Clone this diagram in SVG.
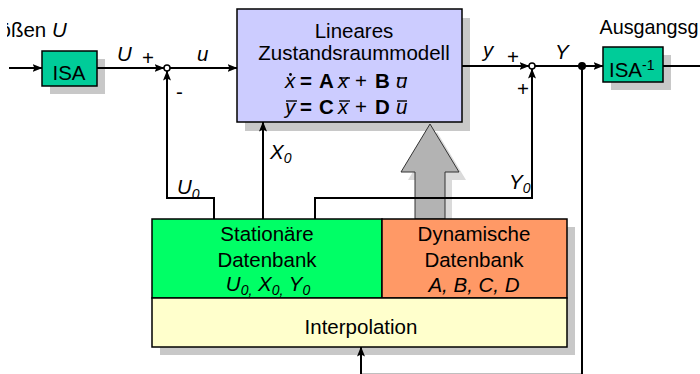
<svg xmlns="http://www.w3.org/2000/svg" width="700" height="374" viewBox="0 0 700 374">
<defs>
<style>
text{font-family:"Liberation Sans",Arial,sans-serif;font-size:20.5px;fill:#000}
.i{font-style:italic}
.b{font-weight:bold}
.s{font-size:14px}
.m{text-anchor:middle}
.box{stroke:#000;stroke-width:1.5}
.sh{fill:#c8c8c8}
.ln{fill:none;stroke:#000;stroke-width:2}
.a{marker-end:url(#ah)}
.bar{stroke:#000;stroke-width:1.4}
</style>
<marker id="ah" markerWidth="10" markerHeight="8" refX="9.5" refY="4" orient="auto" markerUnits="userSpaceOnUse">
<path d="M0,0 L10,4 L0,8 L2,4 Z" fill="#000"/>
</marker>
<clipPath id="clipL"><rect x="7" y="0" width="120" height="50"/></clipPath>
</defs>
<rect width="700" height="374" fill="#fff"/>

<g id="label-in"><text x="-0.5" y="37" clip-path="url(#clipL)">ößen <tspan class="i">U</tspan></text></g>
<g id="label-out"><text x="599.5" y="34" style="font-size:19.8px">Ausgangsg</text></g>

<g id="isa">
<rect class="sh" x="50" y="59" width="55" height="35"/>
<rect class="box" x="42" y="51" width="55" height="35" fill="#00cc99"/>
<text class="m" x="69" y="79.5">ISA</text>
</g>

<g id="isa-inv">
<rect class="sh" x="611" y="55" width="60" height="35"/>
<rect class="box" x="603" y="47" width="60" height="35" fill="#00cc99"/>
<text x="609" y="76.5">ISA<tspan class="s" dy="-7">-1</tspan></text>
</g>

<g id="model">
<rect class="sh" x="245" y="18" width="225" height="113"/>
<rect class="box" x="237" y="9" width="225" height="113" fill="#ccccff"/>
<text class="m" x="354" y="38">Lineares</text>
<text class="m" x="354" y="60">Zustandsraummodell</text>
<text y="88"><tspan x="285" class="i">x</tspan><tspan x="300" class="b">=</tspan><tspan x="319" class="b">A</tspan><tspan x="338" class="i">x</tspan><tspan x="355">+</tspan><tspan x="375" class="b">B</tspan><tspan x="396" class="i">u</tspan></text>
<circle cx="290.5" cy="74.5" r="1.4"/>
<line class="bar" x1="339" y1="78" x2="350" y2="78"/>
<line class="bar" x1="397" y1="78" x2="407" y2="78"/>
<text y="114"><tspan x="285" class="i">y</tspan><tspan x="300" class="b">=</tspan><tspan x="319" class="b">C</tspan><tspan x="338" class="i">x</tspan><tspan x="355">+</tspan><tspan x="375" class="b">D</tspan><tspan x="396" class="i">u</tspan></text>
<line class="bar" x1="286" y1="101" x2="297" y2="101"/>
<line class="bar" x1="339" y1="101" x2="350" y2="101"/>
<line class="bar" x1="397" y1="101" x2="407" y2="101"/>
</g>

<g id="transfer-arrow">
<path d="M422,227 L422,180 L408,180 L437,132 L466,180 L452,180 L452,227 Z" fill="#dadada"/>
<path d="M415,219 L415,172 L401,172 L430,124 L459,172 L445,172 L445,219 Z" fill="#b3b3b3" stroke="#333" stroke-width="1"/>
</g>

<g id="database-shadow"><rect class="sh" x="160" y="227" width="415" height="128"/></g>

<g id="stationaer">
<rect class="box" x="152" y="219" width="230" height="79" fill="#00ff66"/>
<text class="m" x="267" y="241">Stationäre</text>
<text class="m" x="267" y="266.5">Datenbank</text>
<text class="m i" x="268" y="291">U<tspan class="s" dy="4">0,</tspan><tspan dy="-4"> X</tspan><tspan class="s" dy="4">0,</tspan><tspan dy="-4"> Y</tspan><tspan class="s" dy="4">0</tspan></text>
</g>

<g id="dynamisch">
<rect class="box" x="382" y="219" width="185" height="79" fill="#ff9966"/>
<text class="m" x="474" y="241">Dynamische</text>
<text class="m" x="474" y="266.5">Datenbank</text>
<text class="m i" x="474" y="291.5">A, B, C, D</text>
</g>

<g id="interpolation">
<rect class="box" x="152" y="298" width="415" height="49" fill="#ffffcc"/>
<text class="m" x="361" y="334">Interpolation</text>
</g>

<g id="connectors">
<path class="ln a" d="M9,68 L42,68"/>
<path class="ln a" d="M97,68 L164,68"/>
<path class="ln a" d="M170,68 L237,68"/>
<path class="ln a" d="M214,219 L214,198 L167,198 L167,71"/>
<path class="ln a" d="M263,219 L263,122"/>
<path class="ln a" d="M315,219 L315,198 L532,198 L532,69"/>
<path class="ln a" d="M462,66 L529,66"/>
<path class="ln a" d="M535,66 L603,66"/>
<path class="ln" d="M663,66 L700,66"/>
<path class="ln a" d="M582,66 L582,374.8 L361,374.8 L361,347"/>
<circle cx="167" cy="68" r="3" fill="#fff" stroke="#000" stroke-width="1.5"/>
<circle cx="532" cy="66" r="3" fill="#fff" stroke="#000" stroke-width="1.5"/>
<circle cx="582" cy="66" r="4" fill="#000"/>
</g>

<g id="connector-labels">
<text class="i" x="117" y="60.5">U</text>
<text x="142" y="65">+</text>
<text class="i" x="197" y="61">u</text>
<text x="176" y="99">-</text>
<text class="i" x="483" y="57">y</text>
<text class="m" x="513" y="64">+</text>
<text class="i" x="555" y="59">Y</text>
<text class="m" x="523" y="96">+</text>
<text class="i" x="177" y="194">U<tspan class="s" dy="5">0</tspan></text>
<text class="i" x="270" y="159">X<tspan class="s" dy="4">0</tspan></text>
<text class="i" x="509" y="188.5">Y<tspan class="s" dy="4.5">0</tspan></text>
</g>
</svg>
